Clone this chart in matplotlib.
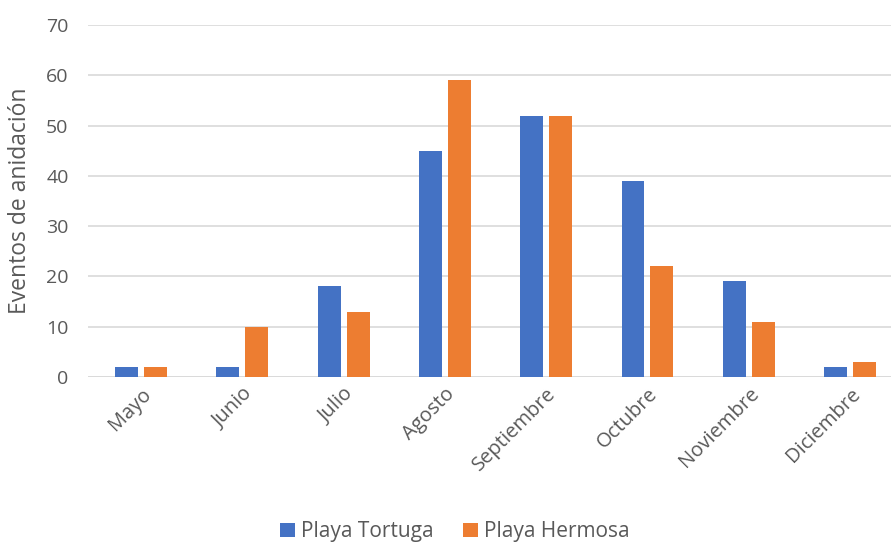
import matplotlib
matplotlib.use('Agg')
import matplotlib.pyplot as plt
import numpy as np

months = ['Mayo', 'Junio', 'Julio', 'Agosto', 'Septiembre', 'Octubre', 'Noviembre', 'Diciembre']
tortuga = [2, 2, 18, 45, 52, 39, 19, 2]
hermosa = [2, 10, 13, 59, 52, 22, 11, 3]
yticks = [0, 10, 20, 30, 40, 50, 60, 70]

plt.rcParams['font.family'] = ['Open Sans', 'DejaVu Sans']
grey = '#595959'

fig = plt.figure(figsize=(8.91, 5.42), dpi=100)
ax = fig.add_axes([0.0988, 0.3044, 0.9012, 0.6495])

x = np.arange(len(months))
w = 0.227
ax.bar(x - 0.143, tortuga, w, color='#4472C4', label='Playa Tortuga', zorder=3)
ax.bar(x + 0.143, hermosa, w, color='#ED7D31', label='Playa Hermosa', zorder=3)

ax.set_xlim(-0.523, 7.404)
ax.set_ylim(0, 70)
ax.set_yticks(yticks)
ax.yaxis.grid(True, color='#d9d9d9', linewidth=1.2, zorder=0)
for s in ax.spines.values():
    s.set_visible(False)
ax.axhline(0, color='#d9d9d9', linewidth=1.2, zorder=1)
ax.tick_params(length=0, labelsize=14, colors=grey)
ax.tick_params(axis='y', pad=14)
ax.set_xticks(x)
ax.set_xticklabels(months, rotation=45, ha='right', rotation_mode='anchor', fontsize=14.5)
ax.tick_params(axis='x', pad=5)
ax.set_ylabel('Eventos de anidación', fontsize=16.5, color=grey, labelpad=10)

ax.legend(loc='center', bbox_to_anchor=(0.457, -0.44), ncol=2, frameon=False,
          fontsize=15, labelcolor=grey, handlelength=0.7, handleheight=0.7,
          handletextpad=0.3, columnspacing=1.4)

plt.savefig('out.png', dpi=100)
